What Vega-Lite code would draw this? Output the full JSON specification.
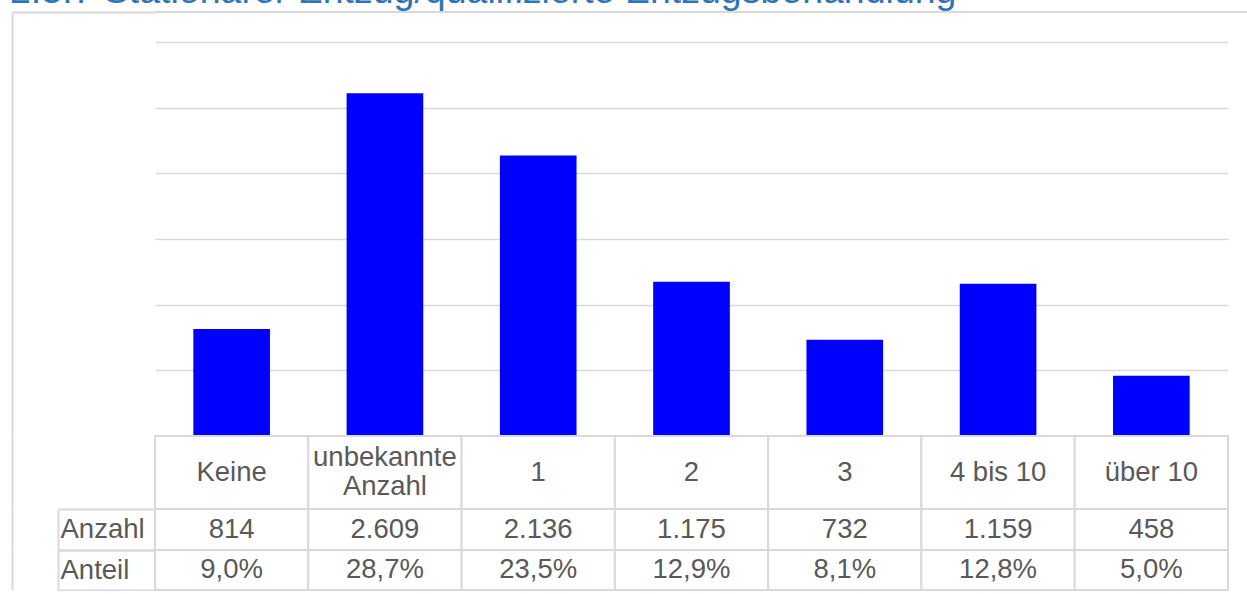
{
  "$schema": "https://vega.github.io/schema/vega-lite/v6.json",
  "title": {"text": "2.3.7 Stationärer Entzug/qualifizierte Entzugsbehandlung", "anchor": "start", "fontSize": 37.5, "font": "Liberation Sans", "fontWeight": "normal", "color": "#2E75B6", "offset": 0},
  "padding": {"left": 10, "top": -28, "right": 0, "bottom": 0},
  "spacing": 0,
  "bounds": "flush",
  "config": {
    "view": {"stroke": null},
    "font": "Liberation Sans",
    "concat": {"spacing": 0},
    "locale": {"number": {"decimal": ",", "thousands": ".", "grouping": [3], "currency": ["", " €"]}}
  },
  "datasets": {
    "d": [
      {"Kategorie": "Keine", "Anzahl": 814, "Anteil": 0.090},
      {"Kategorie": "unbekannte\nAnzahl", "Anzahl": 2609, "Anteil": 0.287},
      {"Kategorie": "1", "Anzahl": 2136, "Anteil": 0.235},
      {"Kategorie": "2", "Anzahl": 1175, "Anteil": 0.129},
      {"Kategorie": "3", "Anzahl": 732, "Anteil": 0.081},
      {"Kategorie": "4 bis 10", "Anzahl": 1159, "Anteil": 0.128},
      {"Kategorie": "über 10", "Anzahl": 458, "Anteil": 0.050}
    ]
  },
  "vconcat": [
    {
      "width": 1092, "height": 0.01,
      "view": {"stroke": "#d9d9d9", "strokeWidth": 2},
      "data": {"values": [{"r": "Rahmen"}]},
      "mark": {"type": "text", "text": "", "fontSize": 0},
      "encoding": {
        "y": {"field": "r", "type": "nominal",
              "axis": {"offset": 143, "domain": false, "labels": false, "ticks": true, "tickSize": -143, "tickColor": "#d9d9d9", "tickWidth": 2, "title": null}}
      }
    },
    {
      "width": 1073, "height": 423,
      "data": {"name": "d"},
      "mark": {"type": "bar", "color": "#0000FF", "width": {"band": 0.5}},
      "encoding": {
        "x": {"field": "Kategorie", "type": "nominal", "sort": null, "scale": {"paddingInner": 0, "paddingOuter": 0}, "axis": null},
        "y": {"field": "Anzahl", "type": "quantitative", "scale": {"domain": [0, 3220.8], "nice": false},
              "axis": {"values": [0, 500, 1000, 1500, 2000, 2500, 3000], "grid": true, "gridColor": "#d9d9d9", "gridWidth": 1.5,
                       "domain": true, "domainColor": "#d9d9d9", "domainWidth": 2, "offset": 143, "ticks": false, "labels": false, "title": null}}
      }
    },
    {
      "width": 1073, "height": 73,
      "data": {"name": "d"},
      "layer": [
        {
          "mark": {"type": "rect", "fill": "white", "stroke": "#d9d9d9", "strokeWidth": 2},
          "encoding": {"x": {"field": "Kategorie", "type": "nominal", "sort": null, "scale": {"paddingInner": 0, "paddingOuter": 0}, "axis": null}}
        },
        {
          "mark": {"type": "text", "fontSize": 27.5, "color": "#595959"},
          "encoding": {
            "x": {"field": "Kategorie", "type": "nominal", "sort": null},
            "y": {"datum": "Kategorie", "type": "nominal",
                  "axis": {"domain": true, "domainColor": "#d9d9d9", "domainWidth": 2, "offset": 143, "ticks": false, "labels": false, "title": null}},
            "text": {"condition": {"test": "indexof(datum.Kategorie, '\\n') >= 0", "value": ""}, "field": "Kategorie"}
          }
        },
        {
          "mark": {"type": "text", "fontSize": 27.5, "color": "#595959", "lineBreak": "\n", "lineHeight": 29, "dy": -14.5},
          "encoding": {
            "x": {"field": "Kategorie", "type": "nominal", "sort": null},
            "y": {"datum": "Kategorie", "type": "nominal"},
            "text": {"condition": {"test": "indexof(datum.Kategorie, '\\n') < 0", "value": ""}, "field": "Kategorie"}
          }
        }
      ]
    },
    {
      "width": 1073, "height": 41,
      "data": {"name": "d"},
      "layer": [
        {
          "mark": {"type": "rect", "fill": "white", "stroke": "#d9d9d9", "strokeWidth": 2},
          "encoding": {
            "x": {"field": "Kategorie", "type": "nominal", "sort": null, "scale": {"paddingInner": 0, "paddingOuter": 0}, "axis": null},
            "y": {"datum": "Anzahl", "type": "nominal", "scale": {"paddingInner": 0, "paddingOuter": 0},
                  "axis": {"orient": "left", "offset": 97, "domain": true, "domainColor": "#d9d9d9", "domainWidth": 2,
                           "ticks": true, "tickBand": "extent", "tickSize": -97, "tickColor": "#d9d9d9", "tickWidth": 2,
                           "labelAlign": "left", "labelPadding": 95, "labelFontSize": 27.5, "labelColor": "#595959", "labelFont": "Liberation Sans", "title": null}}
          }
        },
        {
          "mark": {"type": "text", "fontSize": 27.5, "color": "#595959"},
          "encoding": {
            "x": {"field": "Kategorie", "type": "nominal", "sort": null},
            "y": {"datum": "Anzahl", "type": "nominal",
                  "axis": {"orient": "left", "offset": 143, "domain": true, "domainColor": "#d9d9d9", "domainWidth": 2, "ticks": false, "labels": false, "title": null}},
            "text": {"field": "Anzahl", "type": "quantitative", "format": ",d"}
          }
        }
      ],
      "resolve": {"scale": {"y": "independent"}, "axis": {"y": "independent"}}
    },
    {
      "width": 1073, "height": 40,
      "data": {"name": "d"},
      "layer": [
        {
          "mark": {"type": "rect", "fill": "white", "stroke": "#d9d9d9", "strokeWidth": 2},
          "encoding": {
            "x": {"field": "Kategorie", "type": "nominal", "sort": null, "scale": {"paddingInner": 0, "paddingOuter": 0}, "axis": null},
            "y": {"datum": "Anteil", "type": "nominal", "scale": {"paddingInner": 0, "paddingOuter": 0},
                  "axis": {"orient": "left", "offset": 97, "domain": true, "domainColor": "#d9d9d9", "domainWidth": 2,
                           "ticks": true, "tickBand": "extent", "tickSize": -97, "tickColor": "#d9d9d9", "tickWidth": 2,
                           "labelAlign": "left", "labelPadding": 95, "labelFontSize": 27.5, "labelColor": "#595959", "labelFont": "Liberation Sans", "title": null}}
          }
        },
        {
          "mark": {"type": "text", "fontSize": 27.5, "color": "#595959"},
          "encoding": {
            "x": {"field": "Kategorie", "type": "nominal", "sort": null},
            "y": {"datum": "Anteil", "type": "nominal",
                  "axis": {"orient": "left", "offset": 143, "domain": true, "domainColor": "#d9d9d9", "domainWidth": 2, "ticks": false, "labels": false, "title": null}},
            "text": {"field": "Anteil", "type": "quantitative", "format": ".1%"}
          }
        }
      ],
      "resolve": {"scale": {"y": "independent"}, "axis": {"y": "independent"}}
    }
  ]
}
